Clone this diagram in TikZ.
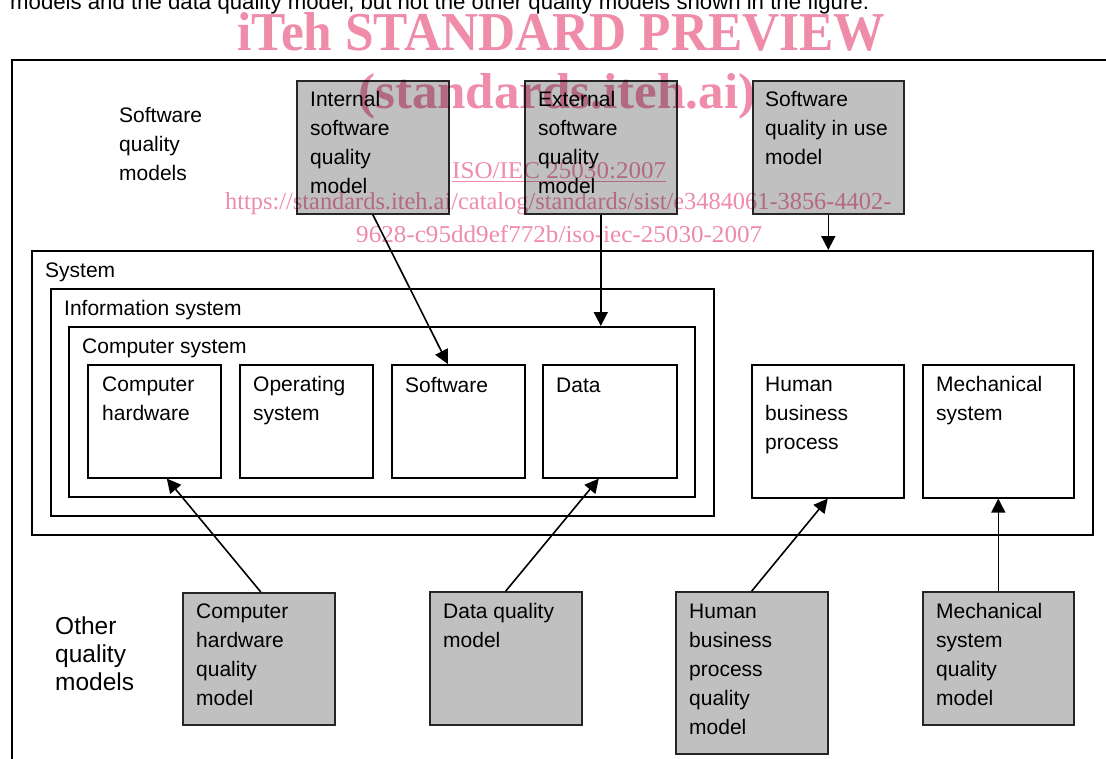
\documentclass[tikz,border=0pt]{standalone}
\usepackage{fontspec}
\usepackage{graphicx}
\setmainfont{Liberation Sans}
\newfontfamily\wmfont{Liberation Serif}
\usetikzlibrary{arrows.meta}
\definecolor{boxgray}{RGB}{192,192,192}
\definecolor{wmpink}{RGB}{238,140,170}
\tikzset{
  frame/.style={draw=black, line width=1.6pt},
  wbox/.style={draw=black, line width=1.6pt, fill=white, anchor=north west, inner sep=0pt},
  gbox/.style={draw=black!85, line width=1.6pt, fill=boxgray, anchor=north west, inner sep=0pt},
  txt/.style={anchor=north west, inner sep=0pt, align=left, font=\fontsize{21}{29}\selectfont,
              execute at begin node={\rule{0pt}{15.5pt}}},
  bigtxt/.style={anchor=north west, inner sep=0pt, align=left, font=\fontsize{24.5}{28}\selectfont,
              execute at begin node={\rule{0pt}{17.5pt}}},
  arr/.style={draw=black, line width=1.6pt, -{Triangle[length=14pt,width=14pt]}},
  wm/.style={anchor=base west, inner sep=0pt, text=wmpink, blend mode=multiply}
}
\begin{document}
\begin{tikzpicture}[x=1pt,y=-1pt]
\useasboundingbox (0,0) rectangle (1106,758);
\clip (0,0) rectangle (1106,758);
\fill[white] (0,0) rectangle (1106,758);

% clipped sentence at the top
\node[anchor=base west, inner sep=0pt, font=\fontsize{22.2}{26}\selectfont] (top) at (10,9)
  {models and the data quality model, but not the other quality models shown in the figure.};

% outer frame
\draw[frame] (12,770) -- (12,60) -- (1120,60);

% labels
\node[txt] (swq) at (119,107.5) {Software\\quality\\models};
\node[bigtxt] (oqm) at (55,616.5) {Other\\quality\\models};

% top quality model boxes
\node[gbox, minimum width=152pt, minimum height=133pt] (int) at (296,80) {};
\node[txt] at (310,91.5) {Internal\\software\\quality\\model};
\node[gbox, minimum width=152pt, minimum height=133pt] (ext) at (524,80) {};
\node[txt] at (538,91.5) {External\\software\\quality\\model};
\node[gbox, minimum width=151pt, minimum height=133pt] (siu) at (752,80) {};
\node[txt] at (765,91.5) {Software\\quality in use\\model};

% nested systems
\node[wbox, minimum width=1061pt, minimum height=284pt] (sys) at (31,250) {};
\node[txt] at (45,261.5) {System};
\node[wbox, minimum width=663pt, minimum height=227pt] (is) at (50,288) {};
\node[txt] at (64,299.5) {Information system};
\node[wbox, minimum width=626pt, minimum height=170pt] (cs) at (68,326) {};
\node[txt] at (82,337.5) {Computer system};

\node[wbox, minimum width=133pt, minimum height=113pt] (ch) at (87,364) {};
\node[txt] at (102,376.5) {Computer\\hardware};
\node[wbox, minimum width=133pt, minimum height=113pt] (os) at (239,364) {};
\node[txt] at (253,376.5) {Operating\\system};
\node[wbox, minimum width=133pt, minimum height=113pt] (sw) at (391,364) {};
\node[txt] at (405,376.5) {Software};
\node[wbox, minimum width=134pt, minimum height=113pt] (da) at (542,364) {};
\node[txt] at (556,376.5) {Data};
\node[wbox, minimum width=152pt, minimum height=133pt] (hb) at (751,364) {};
\node[txt] at (765,376.5) {Human\\business\\process};
\node[wbox, minimum width=151pt, minimum height=133pt] (ms) at (922,364) {};
\node[txt] at (936,376.5) {Mechanical\\system};

% bottom quality model boxes
\node[gbox, minimum width=152pt, minimum height=132pt] (chq) at (182,592) {};
\node[txt] at (196,603.5) {Computer\\hardware\\quality\\model};
\node[gbox, minimum width=152pt, minimum height=133pt] (dq) at (429,591) {};
\node[txt] at (443,603.5) {Data quality\\model};
\node[gbox, minimum width=152pt, minimum height=162pt] (hq) at (675,591) {};
\node[txt] at (689,603.5) {Human\\business\\process\\quality\\model};
\node[gbox, minimum width=151pt, minimum height=133pt] (mq) at (922,591) {};
\node[txt] at (936,603.5) {Mechanical\\system\\quality\\model};

% connectors
\draw[arr] (int.south) -- ([xshift=-10.5pt]sw.north);
\draw[arr] (ext.south) -- (ext.south |- cs.north);
\draw[arr] (siu.south) -- (siu.south |- sys.north);
\draw[arr] ([xshift=2pt]chq.north) -- ([xshift=12.5pt]ch.south);
\draw[arr] (dq.north) -- ([xshift=-11pt]da.south);
\draw[arr] (hq.north) -- (hb.south);
\draw[arr] (mq.north) -- (ms.south);

% watermark texts
\node[wm] (w1) at (237,50) {\resizebox{648pt}{38pt}{\wmfont\bfseries iTeh STANDARD PREVIEW}};
\node[wm] (w2) at (358,108) {\resizebox{397pt}{35pt}{\wmfont\bfseries (standards.iteh.ai)}};
\node[wm] (w3) at (452,178) {\resizebox{214pt}{16pt}{\wmfont\underline{ISO/IEC 25030:2007}}};
\node[wm] (w4) at (225,209) {\resizebox{666pt}{17pt}{\wmfont https://standards.iteh.ai/catalog/standards/sist/e3484061-3856-4402-}};
\node[wm] (w5) at (356,242) {\resizebox{406pt}{17pt}{\wmfont 9628-c95dd9ef772b/iso-iec-25030-2007}};
\end{tikzpicture}
\end{document}
